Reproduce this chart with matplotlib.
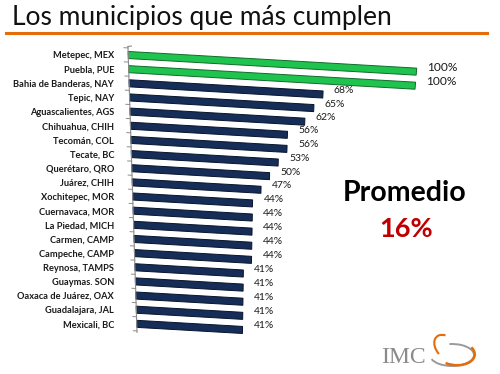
import numpy as np
import matplotlib
matplotlib.use('Agg')
import matplotlib.pyplot as plt
import matplotlib.transforms as mtransforms
from matplotlib.patches import Arc

# ----------------
# DATA
# ----------------

municipios = ['Metepec, MEX', 'Puebla, PUE', 'Bahia de Banderas, NAY', 'Tepic, NAY',
              'Aguascalientes, AGS', 'Chihuahua, CHIH', 'Tecomán, COL', 'Tecate, BC',
              'Querétaro, QRO', 'Juárez, CHIH', 'Xochitepec, MOR', 'Cuernavaca, MOR',
              'La Piedad, MICH', 'Carmen, CAMP', 'Campeche, CAMP', 'Reynosa, TAMPS',
              'Guaymas. SON', 'Oaxaca de Juárez, OAX', 'Guadalajara, JAL', 'Mexicali, BC']
cumplimiento = [100, 100, 68, 65, 62, 56, 56, 53, 50, 47,
                44, 44, 44, 44, 44, 41, 41, 41, 41, 41]
promedio = 16

title = 'Los municipios que más cumplen'

# ----------------
# STYLE
# ----------------

W, H = 500, 374
green, green_edge = '#1fc44f', '#136b2b'
navy, navy_edge = '#162d57', '#08142b'
orange = '#e46c0a'
slope = 0.059      # bars drop to the right (3D look)


class Perspective(mtransforms.Transform):
    """Fake 3D: bars go down to the right, lower rows shrink a bit."""
    input_dims = 2
    output_dims = 2

    def transform_non_affine(self, values):
        values = np.asarray(values, dtype=float)
        u, v = values[:, 0], values[:, 1]
        d = 1 - v
        sc = 1 - 0.11 * d
        x = 0.031 * d + u * sc
        y = v - slope * u * sc
        return np.column_stack([x, y])


fig = plt.figure(figsize=(W / 100, H / 100), dpi=100)
fig.patch.set_facecolor('white')

# axes box: value 0 at x=128px, 100% at x=417px, rows ~14px apart
row_h = 14.15
ax_h = row_h * len(municipios)
ax_top = H - 55 + row_h / 2
ax = fig.add_axes([128 / W, (ax_top - ax_h) / H, 289 / W, ax_h / H])
rows = np.arange(len(municipios))

trans = ax.transScale + ax.transLimits + Perspective() + ax.transAxes

colors = [green if v >= 100 else navy for v in cumplimiento]
edges = [green_edge if v >= 100 else navy_edge for v in cumplimiento]
bars = ax.barh(rows, cumplimiento, height=0.5, color=colors, edgecolor=edges, linewidth=0.7)
for b in bars:
    b.set_transform(trans)
    b.set_clip_on(False)

ax.set_xlim(0, 100)
ax.set_ylim(len(municipios) - 0.5, -0.5)

# value labels
lab_trans = mtransforms.offset_copy(trans, fig=fig, x=11, y=4, units='dots')
for r, v in zip(rows, cumplimiento):
    big = v >= 100
    ax.text(v, r, f'{v}%', transform=lab_trans, ha='left', va='center',
            fontsize=8.6 if big else 7.5, family='Lato', color='#1a1a1a',
            clip_on=False)

# slanted left axis with small ticks
ax.plot([0, 0], [-0.6, len(municipios) - 0.4], transform=trans, color='#8c8c8c',
        lw=0.8, clip_on=False)
for bnd in np.arange(-0.5, len(municipios), 1.0):
    ax.plot([-1.4, 0], [bnd, bnd], transform=trans, color='#8c8c8c', lw=0.7, clip_on=False)
ax.plot([0, 1.2], [-0.6, -0.65], transform=trans, color='#8c8c8c', lw=0.8, clip_on=False)

for s in ax.spines.values():
    s.set_visible(False)
ax.set_xticks([])
ax.set_yticks(rows)
ax.set_yticklabels(municipios, family='Lato', fontweight='bold', fontsize=6.7, color='#1a1a1a')
ax.tick_params(axis='y', length=0, pad=10)
ax.patch.set_visible(False)

# title + orange rule
fig.text(12 / W, 1 - 17 / H, title, family='Lato', fontsize=19, color='#111111',
         ha='left', va='center')
fig.add_artist(plt.Line2D([6 / W, 487 / W], [1 - 33 / H, 1 - 33 / H],
                          color=orange, lw=2.2))

# promedio
fig.text(405 / W, 1 - 193 / H, 'Promedio', family='Lato', fontweight='bold',
         fontsize=20.5, color='black', ha='center', va='center')
fig.text(406 / W, 1 - 229 / H, f'{promedio}%', family='Lato', fontweight='bold',
         fontsize=19.5, color='#c00000', ha='center', va='center')

# IMCO logo
fig.text(381 / W, 1 - 363 / H, 'IMC', family='Liberation Serif', fontsize=17,
         color='#8a8a8a', ha='left', va='baseline')
fig.add_artist(Arc((452 / W, 1 - 355 / H), 44 / W, 22 / H, theta1=195, theta2=100,
                   color='#9a9a9a', lw=1.4, transform=fig.transFigure))
fig.add_artist(Arc((455 / W, 1 - 353 / H), 40 / W, 24 / H, angle=-15, theta1=250, theta2=40,
                   color=orange, lw=1.8, transform=fig.transFigure))
fig.add_artist(Arc((447 / W, 1 - 348 / H), 22 / W, 28 / H, angle=25, theta1=70, theta2=200,
                   color=orange, lw=1.5, transform=fig.transFigure))

fig.savefig('out.png', dpi=100)
plt.close(fig)
